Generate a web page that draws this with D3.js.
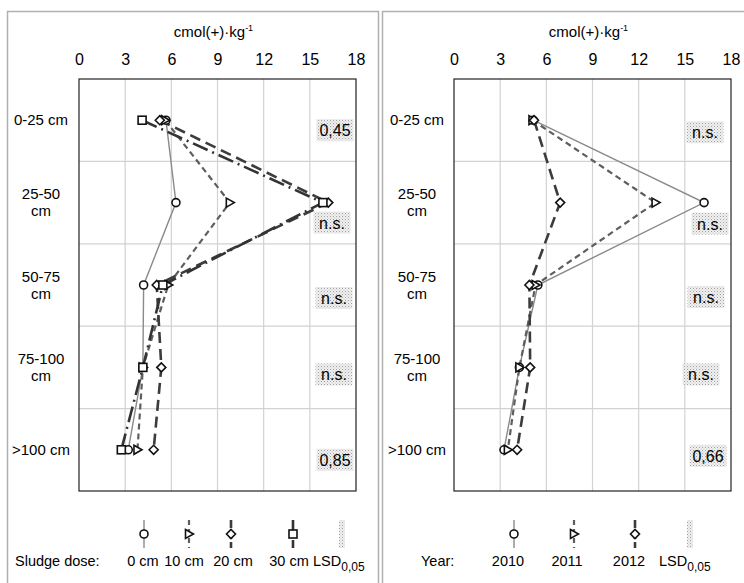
<!DOCTYPE html>
<html><head><meta charset="utf-8">
<script src="https://cdn.jsdelivr.net/npm/d3@7"></script>
<style>
html,body{margin:0;padding:0;background:#fff;}
svg{display:block;font-family:"Liberation Sans",Arial,sans-serif;}
</style></head>
<body>
<svg id="chart" width="744" height="583"></svg>
<script>
// ---------- DATA ----------
const depths = ["0-25 cm", "25-50 cm", "50-75 cm", "75-100 cm", ">100 cm"];
const depthLines = [["0-25 cm"], ["25-50", "cm"], ["50-75", "cm"], ["75-100", "cm"], [">100 cm"]];
const xTicks = [0, 3, 6, 9, 12, 15, 18];
const axisTitle = "cmol(+)·kg";
const axisTitleSup = "-1";

// Left panel: sludge dose
const doseNames = ["0 cm", "10 cm", "20 cm", "30 cm"];
const dose0  = [5.65, 6.3, 4.2, 4.15, 3.2];
const dose10 = [5.6, 9.8, 5.8, 4.15, 3.8];
const dose20 = [5.25, 16.2, 5.05, 5.35, 4.85];
const dose30 = [4.1, 15.85, 5.45, 4.15, 2.75];
const lsdDose = ["0,45", "n.s.", "n.s.", "n.s.", "0,85"];

// Right panel: year
const yearNames = ["2010", "2011", "2012"];
const y2010 = [5.15, 16.25, 5.45, 4.25, 3.25];
const y2011 = [5.1, 13.1, 5.3, 4.25, 3.5];
const y2012 = [5.2, 6.9, 4.9, 4.95, 4.1];
const lsdYear = ["n.s.", "n.s.", "n.s.", "n.s.", "0,66"];

// ---------- STYLES ----------
const styles = {
  solid:   {stroke: "#8a8a8a", width: 1.4, dash: null},
  short:   {stroke: "#5e5e5e", width: 2.2, dash: "6,4"},
  long:    {stroke: "#3c3c3c", width: 2.6, dash: "11,6"},
  dashdot: {stroke: "#333333", width: 2.6, dash: "16,5,2,5"}
};

const svg = d3.select("#chart");
const defs = svg.append("defs");
const pat = defs.append("pattern").attr("id", "stip").attr("patternUnits", "userSpaceOnUse")
  .attr("width", 3).attr("height", 3);
pat.append("rect").attr("width", 3).attr("height", 3).attr("fill", "#f0f0f0");
pat.append("rect").attr("x", 0).attr("y", 0).attr("width", 1).attr("height", 1).attr("fill", "#a0a0a0");
pat.append("rect").attr("x", 1.5).attr("y", 1.5).attr("width", 1).attr("height", 1).attr("fill", "#c0c0c0");

function marker(g, type, x, y) {
  const s = {stroke: "#111", "stroke-width": 1.6, fill: "#fff"};
  let m;
  if (type === "circle") m = g.append("circle").attr("cx", x).attr("cy", y).attr("r", 4);
  else if (type === "square") m = g.append("rect").attr("x", x - 4).attr("y", y - 4).attr("width", 8).attr("height", 8);
  else if (type === "diamond") m = g.append("path").attr("d", `M${x-4.5},${y}L${x},${y-4.5}L${x+4.5},${y}L${x},${y+4.5}Z`);
  else if (type === "triangle") m = g.append("path").attr("d", `M${x-3.5},${y-4.5}L${x+4.5},${y}L${x-3.5},${y+4.5}Z`);
  Object.entries(s).forEach(([k, v]) => m.attr(k, v));
}

function panel(cfg) {
  const g = svg.append("g");
  // panel frame
  g.append("rect").attr("x", cfg.frameX).attr("y", 11.5).attr("width", cfg.frameW).attr("height", 600)
    .attr("fill", "none").attr("stroke", "#b0b0b0").attr("stroke-width", 1.5);

  const x = d3.scaleLinear().domain([0, 18]).range([cfg.x0, cfg.x1]);
  const y = d3.scaleBand().domain(depths).range([79, 491]);

  // gridlines
  g.append("g").selectAll("line").data(xTicks.slice(1, -1)).join("line")
    .attr("x1", d => x(d)).attr("x2", d => x(d)).attr("y1", 79).attr("y2", 491)
    .attr("stroke", "#d2d2d2").attr("stroke-width", 1.2);
  g.append("g").selectAll("line").data(depths.slice(1)).join("line")
    .attr("x1", cfg.x0).attr("x2", cfg.x1).attr("y1", d => y(d)).attr("y2", d => y(d))
    .attr("stroke", "#d2d2d2").attr("stroke-width", 1.2);

  // axis (top)
  const ax = g.append("g").attr("transform", "translate(0,79)")
    .call(d3.axisTop(x).tickValues(xTicks).tickSize(0).tickPadding(14).tickFormat(d3.format("d")));
  ax.select(".domain").remove();
  ax.selectAll("text").attr("font-size", 16).attr("fill", "#000").attr("font-family", "Liberation Sans, Arial, sans-serif");

  // plot frame
  g.append("rect").attr("x", cfg.x0).attr("y", 79).attr("width", cfg.x1 - cfg.x0).attr("height", 412)
    .attr("fill", "none").attr("stroke", "#222").attr("stroke-width", 1.2);

  // title
  const t = g.append("text").attr("x", (cfg.x0 + cfg.x1) / 2 - 4).attr("y", 37)
    .attr("text-anchor", "middle").attr("font-size", 15).attr("fill", "#000");
  t.append("tspan").text(axisTitle);
  t.append("tspan").attr("dy", -6).attr("font-size", 9).text(axisTitleSup);

  // row labels
  depthLines.forEach((lines, i) => {
    const cy = y(depths[i]) + y.bandwidth() / 2;
    const txt = g.append("text").attr("text-anchor", "middle").attr("font-size", 15).attr("fill", "#000");
    lines.forEach((ln, j) => {
      txt.append("tspan").attr("x", cfg.labelX)
        .attr("y", cy + 5 + (j - (lines.length - 1) / 2) * 17).text(ln);
    });
  });

  // LSD labels
  cfg.lsd.forEach((v, i) => {
    const cx = cfg.x1 + cfg.lsdDx[i];
    const cy = y(depths[i]) + y.bandwidth() / 2 + cfg.lsdDy[i];
    const w = v.length > 3 ? 37 : 33;
    g.append("rect").attr("x", cx - w / 2).attr("y", cy - 11).attr("width", w).attr("height", 22)
      .attr("fill", "url(#stip)");
    g.append("text").attr("x", cx).attr("y", cy + 6).attr("text-anchor", "middle")
      .attr("font-size", 16).attr("fill", "#000").text(v);
  });

  // lines
  const line = d3.line().x(d => x(d.v)).y(d => y(d.depth) + y.bandwidth() / 2);
  cfg.series.forEach(s => {
    const pts = s.values.map((v, i) => ({v, depth: depths[i]}));
    const st = styles[s.style];
    g.append("path").datum(pts).attr("d", line).attr("fill", "none")
      .attr("stroke", st.stroke).attr("stroke-width", st.width)
      .attr("stroke-dasharray", st.dash);
  });
  cfg.series.forEach(s => {
    s.values.forEach((v, i) => marker(g, s.marker, x(v), y(depths[i]) + y.bandwidth() / 2));
  });

  // legend
  const lg = g.append("g");
  lg.append("text").attr("x", cfg.legendTitleX).attr("y", 566).attr("font-size", 14.5).attr("fill", "#000")
    .text(cfg.legendTitle);
  cfg.series.forEach((s, i) => {
    const mx = cfg.legMarkX[i], tx = cfg.legTextX[i];
    const st = styles[s.style];
    lg.append("line").attr("x1", mx).attr("x2", mx).attr("y1", 520).attr("y2", 548)
      .attr("stroke", st.stroke).attr("stroke-width", st.width)
      .attr("stroke-dasharray", s.style === "dashdot" ? "10,4,2,4" : (s.style === "short" ? "5,4" : (s.style === "long" ? "8,3" : null)));
    marker(lg, s.marker, mx, 534);
    lg.append("text").attr("x", tx).attr("y", 566).attr("text-anchor", "middle")
      .attr("font-size", 14.5).attr("fill", "#000").text(s.name);
  });
  lg.append("rect").attr("x", cfg.legLsdBoxX - 3).attr("y", 520).attr("width", 6).attr("height", 28)
    .attr("fill", "url(#stip)");
  const lt = lg.append("text").attr("x", cfg.legLsdTextX).attr("y", 566).attr("text-anchor", "start")
    .attr("font-size", 14.5).attr("fill", "#000");
  lt.append("tspan").text("LSD");
  lt.append("tspan").attr("dy", 5).attr("font-size", 12).text("0,05");
}

panel({
  frameX: 7.5, frameW: 371, x0: 79, x1: 356, labelX: 41,
  lsd: lsdDose, lsdDx: [-21, -24, -22, -22, -21], lsdDy: [10, 20, 13, 7, 10],
  series: [
    {name: doseNames[0], values: dose0, style: "solid", marker: "circle"},
    {name: doseNames[1], values: dose10, style: "short", marker: "triangle"},
    {name: doseNames[2], values: dose20, style: "long", marker: "diamond"},
    {name: doseNames[3], values: dose30, style: "dashdot", marker: "square"}
  ],
  legendTitle: "Sludge dose:", legendTitleX: 15,
  legMarkX: [144, 189, 231, 293], legTextX: [143, 184, 233, 289],
  legLsdBoxX: 342, legLsdTextX: 313
});

panel({
  frameX: 382.5, frameW: 400, x0: 454, x1: 731, labelX: 417,
  lsd: lsdYear, lsdDx: [-26, -21, -25, -30, -23], lsdDy: [12, 21, 12, 7, 6],
  series: [
    {name: yearNames[0], values: y2010, style: "solid", marker: "circle"},
    {name: yearNames[1], values: y2011, style: "short", marker: "triangle"},
    {name: yearNames[2], values: y2012, style: "long", marker: "diamond"}
  ],
  legendTitle: "Year:", legendTitleX: 421,
  legMarkX: [514, 574, 635], legTextX: [508, 567, 629],
  legLsdBoxX: 690, legLsdTextX: 659
});
</script>
</body></html>
